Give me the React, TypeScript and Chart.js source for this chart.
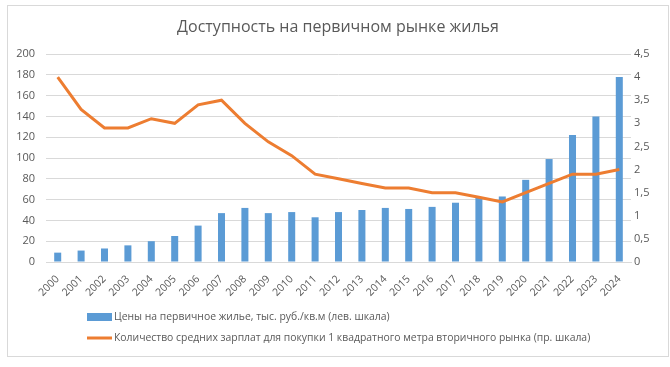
import React, { useEffect, useRef } from "react";
import { Chart, registerables } from "chart.js";

Chart.register(...registerables);

const years = ["2000","2001","2002","2003","2004","2005","2006","2007","2008","2009","2010","2011","2012","2013","2014","2015","2016","2017","2018","2019","2020","2021","2022","2023","2024"];
const primaryPrices = [9, 11, 13, 16, 20, 25, 35, 47, 52, 47, 48, 43, 48, 50, 52, 51, 53, 57, 62, 63, 79, 99, 122, 140, 178];
const salariesPerMeter = [4.0, 3.3, 2.9, 2.9, 3.1, 3.0, 3.4, 3.5, 3.0, 2.6, 2.3, 1.9, 1.8, 1.7, 1.6, 1.6, 1.5, 1.5, 1.4, 1.3, 1.5, 1.7, 1.9, 1.9, 2.0];
const barLabel = "Цены на первичное жилье, тыс. руб./кв.м (лев. шкала)";
const lineLabel = "Количество средних зарплат для покупки 1 квадратного метра вторичного рынка (пр. шкала)";
const titleText = "Доступность на первичном рынке жилья";

const FONT = "'Open Sans', sans-serif";
const TEXT = "#595959";
const BLUE = "#5B9BD5";
const ORANGE = "#ED7D31";
const GRID = "#D9D9D9";

const legendPlugin = {
  id: "customLegend",
  afterDraw(chart: any) {
    const ctx = chart.ctx;
    ctx.save();
    ctx.font = `10.4px ${FONT}`;
    ctx.textBaseline = "middle";
    ctx.textAlign = "left";
    const ds = chart.data.datasets;
    ctx.fillStyle = BLUE;
    ctx.fillRect(79, 307, 25, 8);
    ctx.fillStyle = TEXT;
    ctx.fillText(ds[0].label, 106, 311);
    ctx.strokeStyle = ORANGE;
    ctx.lineWidth = 3;
    ctx.beginPath();
    ctx.moveTo(79, 332);
    ctx.lineTo(104, 332);
    ctx.stroke();
    ctx.fillText(ds[1].label, 106, 332);
    ctx.restore();
  },
};

export default function App() {
  const ref = useRef<HTMLCanvasElement>(null);
  useEffect(() => {
    if (!ref.current) return;
    const chart = new Chart(ref.current, {
      type: "bar",
      data: {
        labels: years,
        datasets: [
          {
            type: "bar",
            label: barLabel,
            data: primaryPrices,
            backgroundColor: BLUE,
            yAxisID: "y",
            barPercentage: 0.3,
            categoryPercentage: 1,
            order: 1,
          },
          {
            type: "line",
            label: lineLabel,
            data: salariesPerMeter,
            borderColor: ORANGE,
            backgroundColor: ORANGE,
            borderWidth: 3,
            pointRadius: 0,
            tension: 0,
            yAxisID: "y1",
            order: 0,
          } as any,
        ],
      },
      options: {
        responsive: false,
        animation: false,
        layout: { padding: 0 },
        plugins: {
          legend: { display: false },
          tooltip: { enabled: false },
          title: {
            display: true,
            text: titleText,
            color: TEXT,
            font: { family: FONT, size: 16, weight: "normal" },
            padding: { top: 12, bottom: 16.8 },
          },
        },
        scales: {
          x: {
            grid: { display: false },
            border: { display: true, color: GRID },
            ticks: {
              color: TEXT,
              font: { family: FONT, size: 10.5 },
              minRotation: 45,
              maxRotation: 45,
              padding: 3,
            },
            afterFit(scale: any) {
              scale.height = 94;
            },
          },
          y: {
            position: "left",
            min: 0,
            max: 200,
            ticks: {
              stepSize: 20,
              color: TEXT,
              font: { family: FONT, size: 11 },
              padding: 11,
            },
            grid: { color: GRID, drawTicks: false },
            border: { display: false },
            afterFit(scale: any) {
              scale.width = 38;
            },
          },
          y1: {
            position: "right",
            min: 0,
            max: 4.5,
            ticks: {
              stepSize: 0.5,
              color: TEXT,
              font: { family: FONT, size: 11 },
              padding: 3,
              callback: (v: any) => String(v).replace(".", ","),
            },
            grid: { display: false, drawTicks: false },
            border: { display: false },
            afterFit(scale: any) {
              scale.width = 37;
            },
          },
        },
      },
      plugins: [legendPlugin],
    });
    return () => chart.destroy();
  }, []);
  return (
    <div
      style={{
        position: "absolute",
        left: 7,
        top: 5,
        width: 660,
        height: 350,
        border: "1px solid #D9D9D9",
        background: "#fff",
      }}
    >
      <canvas ref={ref} width={660} height={350} style={{ display: "block" }} />
    </div>
  );
}
